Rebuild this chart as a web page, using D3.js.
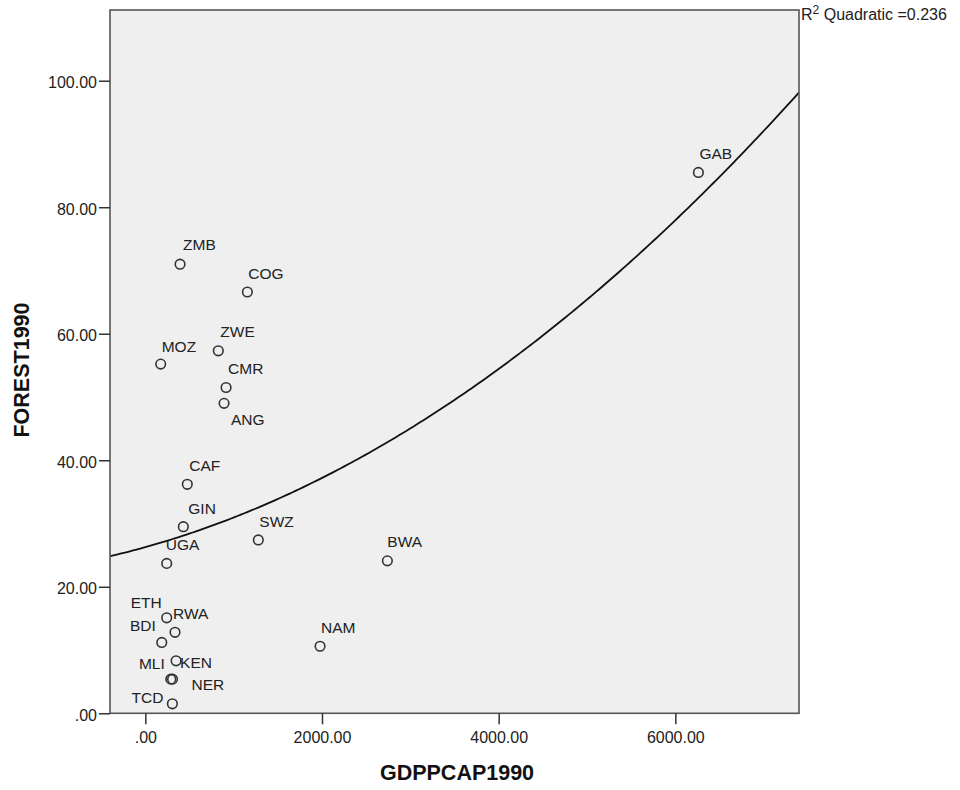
<!DOCTYPE html>
<html>
<head>
<meta charset="utf-8">
<script src="https://cdn.jsdelivr.net/npm/d3@7"></script>
<style>
  html, body { margin: 0; padding: 0; background: #ffffff; }
  svg { display: block; font-family: "Liberation Sans", Arial, sans-serif; }
</style>
</head>
<body>
<svg id="chart" width="960" height="790"></svg>
<script>
// Country codes with GDP per capita and forest cover, 1990
const countryCodes = ["GAB", "ZMB", "COG", "ZWE", "MOZ", "CMR", "ANG", "CAF", "GIN", "UGA",
                      "SWZ", "BWA", "NAM", "ETH", "RWA", "BDI", "KEN", "MLI", "NER", "TCD"];
const gdpPerCapita = [6261, 393, 1155, 826, 174, 914, 891, 475, 430, 242,
                      1279, 2740, 1978, 242, 336, 186, 348, 288, 308, 306];
const forestCover = [85.5, 71.0, 66.6, 57.3, 55.2, 51.5, 49.0, 36.2, 29.5, 23.7,
                     27.4, 24.1, 10.6, 15.1, 12.8, 11.2, 8.3, 5.4, 5.4, 1.5];

const xTicks = [0, 2000, 4000, 6000];
const yTicks = [0, 20, 40, 60, 80, 100];
const rSquaredQuadratic = 0.236;

// Label placement around each marker: offset of the text anchor from the point (px)
const labelPlacement = {
  GAB: { dx: 1, dy: -13, anchor: "start" },
  ZMB: { dx: 3, dy: -14, anchor: "start" },
  COG: { dx: 1, dy: -13, anchor: "start" },
  ZWE: { dx: 2, dy: -14, anchor: "start" },
  MOZ: { dx: 1, dy: -12, anchor: "start" },
  CMR: { dx: 2, dy: -14, anchor: "start" },
  ANG: { dx: 7, dy: 22, anchor: "start" },
  CAF: { dx: 2, dy: -13, anchor: "start" },
  GIN: { dx: 5, dy: -13, anchor: "start" },
  UGA: { dx: -1, dy: -13, anchor: "start" },
  SWZ: { dx: 1, dy: -13, anchor: "start" },
  BWA: { dx: 0, dy: -14, anchor: "start" },
  NAM: { dx: 1, dy: -13, anchor: "start" },
  ETH: { dx: -5, dy: -10, anchor: "end" },
  RWA: { dx: -2, dy: -13, anchor: "start" },
  BDI: { dx: -6, dy: -11, anchor: "end" },
  KEN: { dx: 4, dy: 7, anchor: "start" },
  MLI: { dx: -6, dy: -10, anchor: "end" },
  NER: { dx: 19, dy: 11, anchor: "start" },
  TCD: { dx: -9, dy: -1, anchor: "end" }
};

const points = countryCodes.map((code, i) => ({ code, x: gdpPerCapita[i], y: forestCover[i] }));

const frame = { left: 110, top: 10, right: 799, bottom: 713.3 };

const x = d3.scaleLinear().domain([-400, 7400]).range([frame.left, frame.right]);
const y = d3.scaleLinear().domain([0, 111.18]).range([frame.bottom, frame.top]);

const fmt = d => d === 0 ? ".00" : d.toFixed(2);

const svg = d3.select("#chart");

// Plot area
svg.append("rect")
  .attr("x", frame.left).attr("y", frame.top)
  .attr("width", frame.right - frame.left).attr("height", frame.bottom - frame.top)
  .attr("fill", "#efefef");

svg.append("clipPath").attr("id", "plot-clip")
  .append("rect")
  .attr("x", frame.left).attr("y", frame.top)
  .attr("width", frame.right - frame.left).attr("height", frame.bottom - frame.top);

// Quadratic least-squares fit of forest cover on GDP per capita
function quadraticFit(data) {
  const s = 1000; // scale x for numerical stability
  let S = [0, 0, 0, 0, 0], T = [0, 0, 0];
  data.forEach(p => {
    const u = p.x / s;
    for (let k = 0; k < 5; k++) S[k] += Math.pow(u, k);
    for (let k = 0; k < 3; k++) T[k] += p.y * Math.pow(u, k);
  });
  const A = [[S[0], S[1], S[2], T[0]], [S[1], S[2], S[3], T[1]], [S[2], S[3], S[4], T[2]]];
  for (let i = 0; i < 3; i++) {
    for (let j = i + 1; j < 3; j++) {
      const f = A[j][i] / A[i][i];
      for (let k = i; k < 4; k++) A[j][k] -= f * A[i][k];
    }
  }
  const c = [0, 0, 0];
  for (let i = 2; i >= 0; i--) {
    let v = A[i][3];
    for (let k = i + 1; k < 3; k++) v -= A[i][k] * c[k];
    c[i] = v / A[i][i];
  }
  return xv => c[0] + c[1] * (xv / s) + c[2] * (xv / s) * (xv / s);
}

const fit = quadraticFit(points);
const xs = d3.range(0, 201).map(i => x.domain()[0] + (x.domain()[1] - x.domain()[0]) * i / 200);

svg.append("path")
  .datum(xs)
  .attr("clip-path", "url(#plot-clip)")
  .attr("fill", "none")
  .attr("stroke", "#111")
  .attr("stroke-width", 1.8)
  .attr("d", d3.line().x(d => x(d)).y(d => y(fit(d))));

// Markers
svg.append("g").selectAll("circle")
  .data(points)
  .join("circle")
  .attr("cx", d => x(d.x))
  .attr("cy", d => y(d.y))
  .attr("r", 4.8)
  .attr("fill", "none")
  .attr("stroke", "#333")
  .attr("stroke-width", 1.6);

// Point labels
svg.append("g").selectAll("text")
  .data(points)
  .join("text")
  .attr("x", d => x(d.x) + labelPlacement[d.code].dx)
  .attr("y", d => y(d.y) + labelPlacement[d.code].dy)
  .attr("text-anchor", d => labelPlacement[d.code].anchor)
  .attr("font-size", 15.5)
  .attr("fill", "#222")
  .text(d => d.code);

// Frame
svg.append("rect")
  .attr("x", frame.left).attr("y", frame.top)
  .attr("width", frame.right - frame.left).attr("height", frame.bottom - frame.top)
  .attr("fill", "none")
  .attr("stroke", "#555")
  .attr("stroke-width", 1.6);

// Axes
const yAxis = svg.append("g")
  .attr("transform", `translate(${frame.left},0)`)
  .call(d3.axisLeft(y).tickValues(yTicks).tickSize(11).tickPadding(2).tickFormat(fmt));
yAxis.select(".domain").remove();
yAxis.selectAll(".tick line").attr("stroke", "#333").attr("stroke-width", 1.5);
yAxis.selectAll(".tick text")
  .attr("font-size", 16).attr("font-family", "Liberation Sans, Arial, sans-serif")
  .attr("fill", "#222").attr("dy", "0.45em");

const xAxis = svg.append("g")
  .attr("transform", `translate(0,${frame.bottom})`)
  .call(d3.axisBottom(x).tickValues(xTicks).tickSize(11).tickPadding(7).tickFormat(fmt));
xAxis.select(".domain").remove();
xAxis.selectAll(".tick line").attr("stroke", "#333").attr("stroke-width", 1.5);
xAxis.selectAll(".tick text")
  .attr("font-size", 16).attr("font-family", "Liberation Sans, Arial, sans-serif")
  .attr("fill", "#222");

// Axis titles
svg.append("text")
  .attr("x", 457).attr("y", 780)
  .attr("text-anchor", "middle")
  .attr("font-size", 21.5).attr("font-weight", "bold")
  .attr("fill", "#111")
  .text("GDPPCAP1990");

svg.append("text")
  .attr("transform", "translate(29,370) rotate(-90)")
  .attr("text-anchor", "middle")
  .attr("font-size", 21.5).attr("font-weight", "bold")
  .attr("fill", "#111")
  .text("FOREST1990");

// Fit annotation
const r2 = svg.append("text")
  .attr("x", 801).attr("y", 20)
  .attr("font-size", 16)
  .attr("fill", "#222");
r2.append("tspan").text("R");
r2.append("tspan").attr("font-size", 12).attr("dy", -6).text("2");
r2.append("tspan").attr("dy", 6).text(" Quadratic =" + rSquaredQuadratic.toFixed(3));
</script>
</body>
</html>
